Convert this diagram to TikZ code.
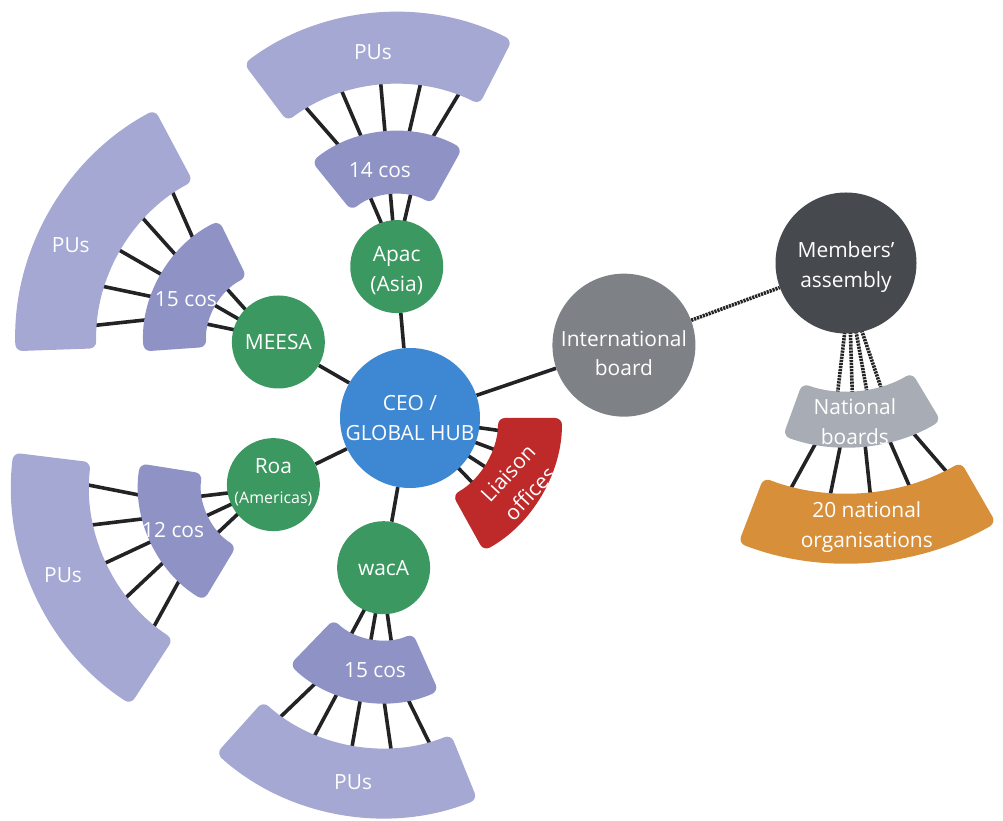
\documentclass[tikz,border=0pt]{standalone}
\usepackage{fontspec}
\setmainfont{Open Sans}
\usetikzlibrary{calc,backgrounds}
\definecolor{hubblue}{RGB}{62,135,210}
\definecolor{regiongreen}{RGB}{58,152,96}
\definecolor{pulav}{RGB}{164,168,210}
\definecolor{coslav}{RGB}{142,146,196}
\definecolor{liaisonred}{RGB}{190,42,42}
\definecolor{boardgrey}{RGB}{126,129,134}
\definecolor{assemblydark}{RGB}{70,73,77}
\definecolor{natgrey}{RGB}{168,172,180}
\definecolor{natorange}{RGB}{215,143,58}
\definecolor{linkdark}{RGB}{35,35,38}
\newcommand\mainfs{\fontsize{21}{30}\selectfont}
\newcommand\smallfs{\fontsize{16}{20}\selectfont}
% annular sector: center, r1, r2, a1, a2, colour
\newcommand\annsector[6]{%
  \fill[#6, rounded corners=7bp, shift={(#1)}] (#4:#2) arc[start angle=#4, end angle=#5, radius=#2]
    -- (#5:#3) arc[start angle=#5, end angle=#4, radius=#3] -- cycle;}
% links of one branch: region node, direction
\newcommand\branchlinks[2]{%
  \foreach \k in {-1,0,1}
    \draw[link] ($(#1)+(#2+\k*14:40)$) -- ($(#1)+(#2+\k*16:76)$);
  \foreach \k in {-2,...,2}
    \draw[link] ($(#1)+(#2+\k*10:130)$) -- ($(#1)+(#2+\k*12.5:187)$);}
\begin{document}
\begin{tikzpicture}[x=1bp,y=1bp,
  link/.style={draw=linkdark, line width=3.6bp},
  dotlink/.style={draw=linkdark, line width=3.6bp, dash pattern=on 2.2bp off 0.9bp},
  txt/.style={text=white, font=\mainfs, align=center, inner sep=0pt},
  hubnode/.style={circle, fill=hubblue, minimum size=140bp, inner sep=0pt},
  regionnode/.style={circle, fill=regiongreen, minimum size=93bp, inner sep=0pt},
  boardnode/.style={circle, fill=boardgrey, minimum size=143bp, inner sep=0pt},
  assemblynode/.style={circle, fill=assemblydark, minimum size=141bp, inner sep=0pt}]
\useasboundingbox (0,0) rectangle (1003,821);

% circles
\node[hubnode, label={[txt]center:{CEO /\\GLOBAL HUB}}] (ceo) at (410,403) {};
\node[regionnode, label={[txt, yshift=-4bp]center:{Apac\\(Asia)}}] (apac) at ($(ceo)+(95:152)$) {};
\node[regionnode, label={[txt]center:{MEESA}}] (meesa) at ($(ceo)+(150:152)$) {};
\node[regionnode, label={[txt, yshift=2bp]center:{Roa\\{\smallfs(Americas)}}}] (roa) at ($(ceo)+(206:152)$) {};
\node[regionnode, label={[txt]center:{wacA}}] (waca) at ($(ceo)+(260:152)$) {};
\node[boardnode, label={[txt, yshift=-8bp]center:{International\\board}}] (board) at ($(ceo)+(18.8:226)$) {};
\node[assemblynode, label={[txt, yshift=-4bp]center:{Members'\\assembly}}] (assembly) at (846,558) {};

% sectors of the branches
\annsector{apac.center}{72}{135}{61}{129}{coslav}
\annsector{apac.center}{182}{254}{63}{127}{pulav}
\annsector{meesa.center}{72}{135}{116}{184}{coslav}
\annsector{meesa.center}{182}{263}{118}{182}{pulav}
\annsector{roa.center}{72}{135}{171}{239}{coslav}
\annsector{roa.center}{184}{262}{173}{237}{pulav}
\annsector{waca.center}{72}{135}{226}{294}{coslav}
\annsector{waca.center}{180}{250}{228}{292}{pulav}
\annsector{ceo.center}{88}{152}{-61}{0}{liaisonred}
\annsector{assembly.center}{128}{184}{250}{301}{natgrey}
\annsector{assembly.center}{230}{300}{249}{300}{natorange}

% sector texts
\node[txt] (apaccos) at ($(apac)+(99.9:98)$) {14 cos};
\node[txt] (apacpus) at ($(apac)+(96.3:216)$) {PUs};
\node[txt] (meesacos) at ($(meesa)+(155:102)$) {15 cos};
\node[txt] (meesapus) at ($(meesa)+(155:229)$) {PUs};
\node[txt] (roacos) at ($(roa)+(204.3:110)$) {12 cos};
\node[txt] (roapus) at ($(roa)+(203.3:229)$) {PUs};
\node[txt] (wacacos) at ($(waca)+(265.2:102.7)$) {15 cos};
\node[txt] (wacapus) at ($(waca)+(261.9:216.5)$) {PUs};
\node[txt, rotate=47] (liaison) at ($(ceo)+(-31:127)$) {Liaison\\offices};
\node[txt] (natboards) at ($(assembly)+(273.2:159)$) {National\\boards};
\node[txt] (natorgs) at ($(assembly)+(274.5:265)$) {20 national\\organisations};

% connectors, below the shapes
\begin{pgfonlayer}{background}
  \draw[link] (ceo) -- (apac);
  \draw[link] (ceo) -- (meesa);
  \draw[link] (ceo) -- (roa);
  \draw[link] (ceo) -- (waca);
  \draw[link] (ceo) -- (board);
  \draw[dotlink] (board) -- (assembly);
  \branchlinks{apac}{95}
  \branchlinks{meesa}{150}
  \branchlinks{roa}{205}
  \branchlinks{waca}{260}
  \foreach \a in {-8,-20.5,-33,-46}
    \draw[link] ($(ceo)+(\a:60)$) -- ($(ceo)+(\a:92)$);
  \foreach \k in {-1.5,-0.5,0.5,1.5}
    \draw[dotlink] ($(assembly)+(276+\k*4.5:66)$) -- ($(assembly)+(276+\k*6.5:132)$);
  \foreach \k in {-2,...,2}
    \draw[link] ($(assembly)+(276+\k*7.5:178)$) -- ($(assembly)+(276+\k*10:236)$);
\end{pgfonlayer}
\end{tikzpicture}
\end{document}
